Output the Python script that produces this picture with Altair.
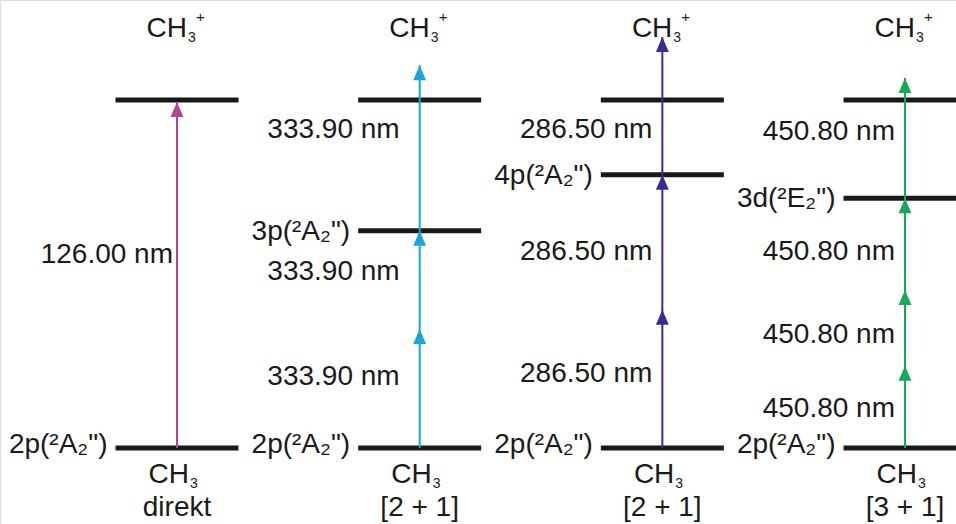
import altair as alt
import pandas as pd

# ---------------- data ----------------
panel_ids = [1, 2, 3, 4]
schemes = ["direkt", "[2 + 1]", "[2 + 1]", "[3 + 1]"]
wavelength_labels = ["126.00 nm", "333.90 nm", "286.50 nm", "450.80 nm"]
arrow_colors = ["#b0478f", "#1ba4db", "#3a2b93", "#17a955"]
ground_level = 0.0          # schematic energy units
ion_level = 10.0
ground_state = '2p(²A₂")'
intermediate_states = ["", '3p(²A₂")', '4p(²A₂")', '3d(²E₂")']
intermediate_levels = [None, 6.24, 7.85, 7.18]
photon_tips = [[9.94], [3.42, 6.24, 11.0], [3.97, 7.85, 11.81], [2.36, 4.54, 7.18, 10.63]]
wavelength_label_levels = [[5.32], [8.91, 4.83, 1.81], [8.91, 5.40, 1.90], [8.85, 5.40, 3.02, 0.89]]

# ---------------- layout / style ----------------
W, H = 956, 524
PX_PER_PANEL = 242.67
X0 = 177
PX_PER_E = 34.8
Y_GROUND = 448
x_dom = [1 - X0 / PX_PER_PANEL, 1 + (W - X0) / PX_PER_PANEL]
y_dom = [-(H - Y_GROUND) / PX_PER_E, Y_GROUND / PX_PER_E]
HALF = 61.5 / PX_PER_PANEL
label_gap_px = [4, 20, 10, 10]
state_gap_px = 8
FONT = "Liberation Sans"
FS = 28

xs = alt.Scale(domain=x_dom, nice=False, zero=False)
ys = alt.Scale(domain=y_dom, nice=False, zero=False)

# ---------------- tables ----------------
lev_rows = []
for i, p in enumerate(panel_ids):
    lev_rows.append(dict(x=p - HALF, x2=p + HALF, E=ground_level))
    lev_rows.append(dict(x=p - HALF, x2=p + HALF, E=ion_level))
    if intermediate_levels[i] is not None:
        lev_rows.append(dict(x=p - HALF, x2=p + HALF, E=intermediate_levels[i]))
levels = pd.DataFrame(lev_rows)

arrows = pd.DataFrame([dict(x=p, E=ground_level, E2=max(photon_tips[i]), color=arrow_colors[i])
                       for i, p in enumerate(panel_ids)])
heads = pd.DataFrame([dict(x=p, E=t, color=arrow_colors[i])
                      for i, p in enumerate(panel_ids) for t in photon_tips[i]])
wl = pd.DataFrame([dict(x=p - label_gap_px[i] / PX_PER_PANEL, E=e, text=wavelength_labels[i])
                   for i, p in enumerate(panel_ids) for e in wavelength_label_levels[i]])
ground_rows, inter_rows = [], []
for i, p in enumerate(panel_ids):
    ground_rows.append(dict(x=p - HALF - state_gap_px / PX_PER_PANEL, E=ground_level, text=ground_state))
    if intermediate_levels[i] is not None:
        inter_rows.append(dict(x=p - HALF - state_gap_px / PX_PER_PANEL, E=intermediate_levels[i],
                               text=intermediate_states[i]))
ground_df = pd.DataFrame(ground_rows)
inter_df = pd.DataFrame(inter_rows)
cols = pd.DataFrame(dict(x=panel_ids, top=[ion_level] * 4, bot=[ground_level] * 4, scheme=schemes))

X = alt.X("x:Q", scale=xs, axis=None)
Yq = lambda f: alt.Y(f"{f}:Q", scale=ys, axis=None)

lines = alt.Chart(levels).mark_rule(strokeWidth=5, color="#1a1a1a").encode(
    x=X, x2="x2:Q", y=Yq("E"))
arr = alt.Chart(arrows).mark_rule(strokeWidth=2).encode(
    x=X, y=Yq("E"), y2="E2:Q", color=alt.Color("color:N", scale=None))
hd = alt.Chart(heads).mark_point(shape="M0,0L0.43,1L-0.43,1Z", size=900, filled=True,
                                 opacity=1, strokeWidth=0).encode(
    x=X, y=Yq("E"), color=alt.Color("color:N", scale=None))

def txt(df, **kw):
    base = dict(font=FONT, fontSize=FS, color="#1a1a1a", baseline="alphabetic")
    base.update(kw)
    return alt.Chart(df).mark_text(**base)

wl_t = txt(wl, align="right").encode(x=X, y=Yq("E"), text="text:N")
st_g = txt(ground_df, align="right", dy=5).encode(x=X, y=Yq("E"), text="text:N")
st_i = txt(inter_df, align="right", dy=9).encode(x=X, y=Yq("E"), text="text:N")

top_ch = txt(cols, align="right", dx=10, dy=-63).encode(x=X, y=Yq("top"), text=alt.value("CH"))
top_3 = txt(cols, align="left", dx=11, dy=-58, fontSize=14).encode(x=X, y=Yq("top"), text=alt.value("3"))
top_p = txt(cols, align="left", dx=19, dy=-78, fontSize=15).encode(x=X, y=Yq("top"), text=alt.value("+"))
bot_ch = txt(cols, align="right", dx=12, dy=35).encode(x=X, y=Yq("bot"), text=alt.value("CH"))
bot_3 = txt(cols, align="left", dx=13, dy=40, fontSize=14).encode(x=X, y=Yq("bot"), text=alt.value("3"))
bot_s = txt(cols, align="center", dy=68).encode(x=X, y=Yq("bot"), text="scheme:N")

chart = alt.layer(lines, arr, hd, wl_t, st_g, st_i, top_ch, top_3, top_p, bot_ch, bot_3, bot_s).properties(
    width=W, height=H, autosize=alt.AutoSizeParams(type="none"), padding=0
).configure_view(stroke=None).configure(background="white")

chart.save("out.html", embed_options={"renderer": "svg", "actions": False})
